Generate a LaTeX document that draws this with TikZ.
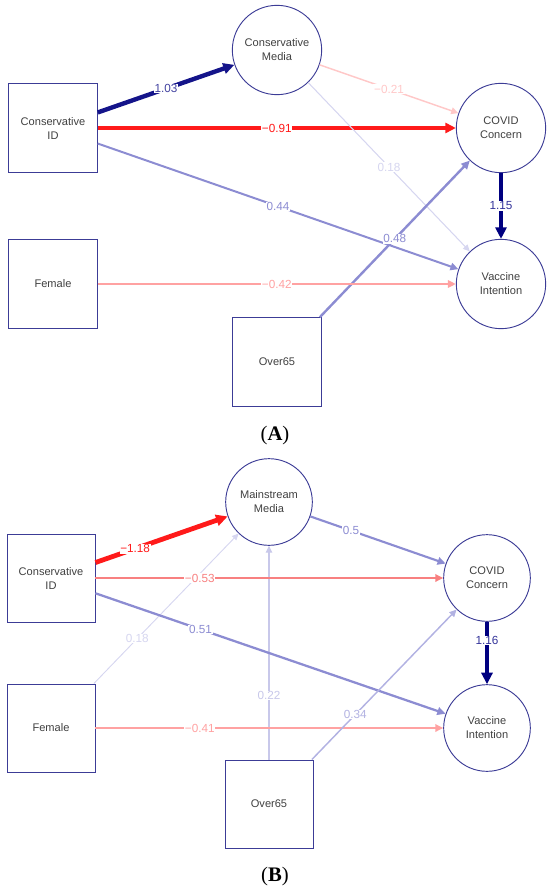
\documentclass[tikz,border=0pt]{standalone}
\usepackage{fontspec}
\setmainfont{Liberation Sans}
\newfontfamily\capfont{Liberation Serif}
\usepackage{xcolor}
\usetikzlibrary{positioning,arrows.meta}

\definecolor{nodeblue}{HTML}{3C3C96}
\definecolor{nodetext}{HTML}{404040}
\definecolor{posdark}{HTML}{000080}
\definecolor{posdarkA}{HTML}{14148A}
\definecolor{posmid}{HTML}{8C8CD2}
\definecolor{posfair}{HTML}{B2B2E2}
\definecolor{poslight}{HTML}{C8C8EA}
\definecolor{pospale}{HTML}{D6D6F0}
\definecolor{negdark}{HTML}{FF1A1A}
\definecolor{negmid}{HTML}{F88080}
\definecolor{neglight}{HTML}{FFA2A2}
\definecolor{negpale}{HTML}{FFC8C8}

\begin{document}
\begin{tikzpicture}[
      x=0.75pt, y=-0.75pt,
      var/.style={draw=nodeblue, line width=0.7pt, rectangle, minimum size=66.5pt,
                  inner sep=0pt, align=center, text=nodetext,
                  font=\fontsize{8.3}{10.5}\selectfont},
      lat/.style={draw=nodeblue, line width=0.7pt, circle, minimum size=67pt,
                  inner sep=0pt, align=center, text=nodetext,
                  font=\fontsize{8.3}{10.5}\selectfont},
      path/.style={-{Triangle[length=4pt 1.3, width=3.6pt 1.3]}},
      coef/.style={fill=white, inner sep=0.5pt, font=\fontsize{8.8}{9}\selectfont},
      panel/.style={font=\capfont\fontsize{15.5}{18}\selectfont},
    ]
    \useasboundingbox (0,0) rectangle (550,892);

    % panel A
    \node[var] (cidA) at (53,128) {Conservative\\ID};
    \node[lat] (cmA) at (277,50) {Conservative\\Media};
    \node[lat] (covA) at (501,128) {COVID\\Concern};
    \node[lat] (vacA) at (501,284) {Vaccine\\Intention};
    \node[var] (femA) at (53,284) {Female};
    \node[var] (oldA) at (277,362) {Over65};
    \draw[path, draw=posdarkA, line width=3.3pt] (cidA) -- node[coef, text=posdarkA!80] {1.03} (cmA);
    \draw[path, draw=negdark, line width=3pt] (cidA) -- node[coef, text=negdark] {−0.91} (covA);
    \draw[path, draw=posmid, line width=1.5pt] (cidA) -- node[coef, text=posmid] {0.44} (vacA);
    \draw[path, draw=negpale, line width=1.1pt] (cmA) -- node[coef, text=negpale] {−0.21} (covA);
    \draw[path, draw=pospale, line width=0.8pt] (cmA) -- node[coef, text=pospale] {0.18} (vacA);
    \draw[path, draw=posmid, line width=1.8pt] (oldA) -- node[coef, text=posmid] {0.48} (covA);
    \draw[path, draw=posdark, line width=3.6pt] (covA) -- node[coef, text=posdark!80] {1.15} (vacA);
    \draw[path, draw=neglight, line width=1.5pt] (femA) -- node[coef, text=neglight] {−0.42} (vacA);
    \node[panel] (capA) at (275,436) {({\bfseries A})};

    % panel B
    \node[var, minimum size=66pt] (cidB) at (51,578) {Conservative\\ID};
    \node[lat, minimum size=65pt] (mmB) at (269,502) {Mainstream\\Media};
    \node[lat, minimum size=65pt] (covB) at (487,578) {COVID\\Concern};
    \node[lat, minimum size=65pt] (vacB) at (487,728) {Vaccine\\Intention};
    \node[var, minimum size=66pt] (femB) at (51,728) {Female};
    \node[var, minimum size=66pt] (oldB) at (269,804) {Over65};
    \draw[path, draw=pospale, line width=0.7pt] (femB) -- node[coef, pos=0.3, text=pospale] {0.18} (mmB);
    \draw[path, draw=poslight, line width=0.9pt] (oldB) -- node[coef, pos=0.3, text=poslight] {0.22} (mmB);
    \draw[path, draw=negdark, line width=3.6pt] (cidB) -- node[coef, pos=0.3, text=negdark] {−1.18} (mmB);
    \draw[path, draw=negmid, line width=1.5pt] (cidB) -- node[coef, pos=0.3, text=negmid] {−0.53} (covB);
    \draw[path, draw=posmid, line width=1.7pt] (cidB) -- node[coef, pos=0.3, text=posmid] {0.51} (vacB);
    \draw[path, draw=posmid, line width=1.6pt] (mmB) -- node[coef, pos=0.3, text=posmid] {0.5} (covB);
    \draw[path, draw=neglight, line width=1.5pt] (femB) -- node[coef, pos=0.3, text=neglight] {−0.41} (vacB);
    \draw[path, draw=posfair, line width=1.1pt] (oldB) -- node[coef, pos=0.3, text=posfair] {0.34} (covB);
    \draw[path, draw=posdark, line width=3.6pt] (covB) -- node[coef, pos=0.3, text=posdark!80] {1.16} (vacB);
    \node[panel] (capB) at (275,877) {({\bfseries B})};
  \end{tikzpicture}
\end{document}
